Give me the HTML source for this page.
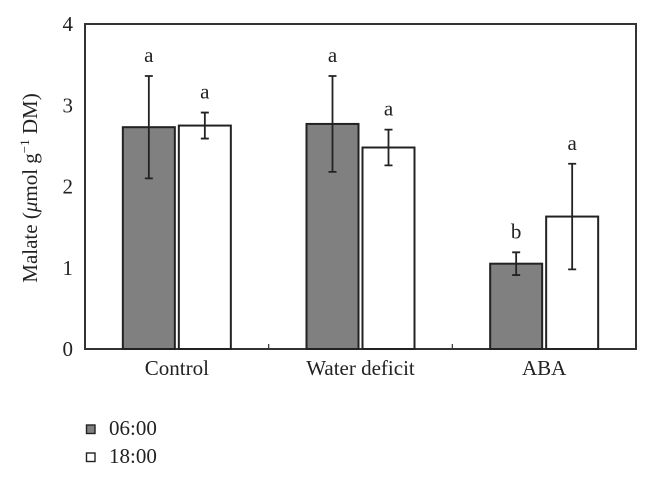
<!DOCTYPE html>
<html><head><meta charset="utf-8"><style>
body{margin:0;background:#fff;}
svg text{font-family:"Liberation Serif",serif;fill:#222;}
</style></head><body>
<svg id="chart" width="650" height="476" xmlns="http://www.w3.org/2000/svg">
<g id="plot"></g>
<text transform="translate(37,188) rotate(-90)" text-anchor="middle" font-size="21">Malate (<tspan font-style="italic">μ</tspan>mol g<tspan dy="-8" font-size="13">−1</tspan><tspan dy="8"> DM)</tspan></text>
<g>
<rect x="86.5" y="425" width="8.5" height="8.5" fill="#808080" stroke="#222" stroke-width="1.4"/>
<text x="109" y="435" font-size="21">06:00</text>
<rect x="86.5" y="453" width="8.5" height="8.5" fill="#fff" stroke="#222" stroke-width="1.4"/>
<text x="109" y="463" font-size="21">18:00</text>
</g>
</svg>
<script>
const categories=["Control","Water deficit","ABA"];
const morning=[2.73,2.77,1.05];
const morningErr=[0.63,0.59,0.14];
const evening=[2.75,2.48,1.63];
const eveningErr=[0.16,0.22,0.65];
const morningLetters=["a","a","b"];
const eveningLetters=["a","a","a"];
const yTicks=[0,1,2,3,4];

const L=85,R=636,T=24,B=349,yMax=4;
const gw=(R-L)/categories.length;
const y=v=>B-(v/yMax)*(B-T);
const gx=i=>L+gw*(i+0.5);
const ns="http://www.w3.org/2000/svg";
const g=document.getElementById('plot');
function el(t,a){const e=document.createElementNS(ns,t);for(const k in a)e.setAttribute(k,a[k]);g.appendChild(e);return e;}

const frame=el('rect',{x:L,y:T,width:R-L,height:B-T,fill:'none',stroke:'#333','stroke-width':2});



yTicks.forEach(t=>{
  const tx=el('text',{x:L-12,y:y(t)+7,'text-anchor':'end','font-size':21});
  tx.textContent=t;
  
  
});
for(let i=1;i<categories.length;i++){
  const tk=el('line',{x1:L+gw*i,x2:L+gw*i,y1:B,y2:B-5,stroke:'#333','stroke-width':1.2});
  
  
}
const bw=52,gap=4;
function bar(i,v,e,letter,fill,left,name){
  const x=left?gx(i)-gap/2-bw:gx(i)+gap/2;
  const r=el('rect',{x:x,y:y(v),width:bw,height:B-y(v),fill:fill,stroke:'#222','stroke-width':2});
  
  
  const cx=x+bw/2;
  const eb=el('path',{d:`M${cx},${y(v+e)}V${y(v-e)}M${cx-4},${y(v+e)}H${cx+4}M${cx-4},${y(v-e)}H${cx+4}`,stroke:'#222','stroke-width':1.8,fill:'none'});
  
  
  const lt=el('text',{x:cx,y:y(v+e)-14,'text-anchor':'middle','font-size':21});
  lt.textContent=letter;
  
  
}
categories.forEach((c,i)=>{
  bar(i,morning[i],morningErr[i],morningLetters[i],'#808080',true,'bar-0600-'+i);
  bar(i,evening[i],eveningErr[i],eveningLetters[i],'#fff',false,'bar-1800-'+i);
  const lb=el('text',{x:gx(i),y:B+26,'text-anchor':'middle','font-size':21});
  lb.textContent=c;
  
  
});
</script>
</body></html>
